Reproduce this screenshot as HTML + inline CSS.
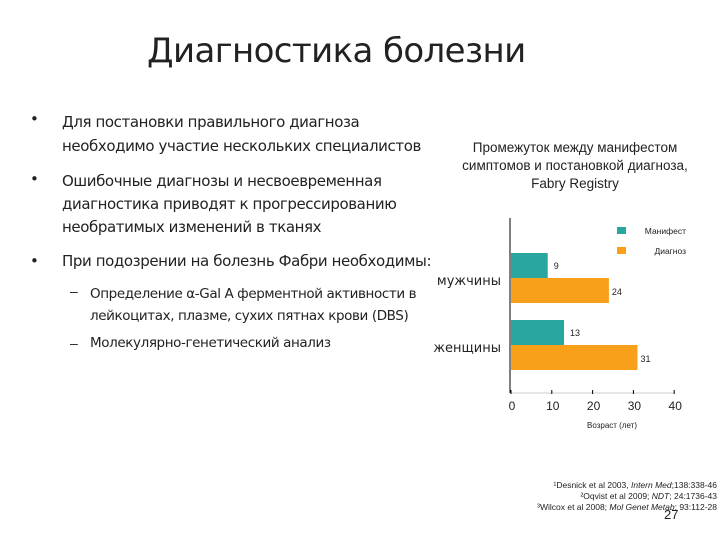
<!DOCTYPE html>
<html><head><meta charset="utf-8"><style>
body{margin:0;width:720px;height:540px;background:#fff;overflow:hidden;position:relative;font-family:"Liberation Sans","DejaVu Sans",sans-serif;}
.t{position:absolute;white-space:nowrap;color:#222;}
.b{font-size:15px;font-family:"DejaVu Sans","Liberation Sans",sans-serif;color:#222;letter-spacing:-0.4px}
</style></head><body>
<div class="t" style="left:147px;top:31px;font-size:34px;font-family:'DejaVu Sans',sans-serif;letter-spacing:-0.6px">Диагностика болезни</div>
<div class="t" style="left:30px;top:110px"><span class="b">•</span></div>
<div class="t b" style="left:62px;top:110px;line-height:24px">Для постановки правильного диагноза<br>необходимо участие нескольких специалистов</div>
<div class="t" style="left:30px;top:170px"><span class="b">•</span></div>
<div class="t b" style="left:62px;top:170px;line-height:23px">Ошибочные диагнозы и несвоевременная<br>диагностика приводят к прогрессированию<br>необратимых изменений в тканях</div>
<div class="t" style="left:30px;top:252px"><span class="b">•</span></div>
<div class="t b" style="left:62px;top:252px">При подозрении на болезнь Фабри необходимы:</div>
<div class="t" style="left:70px;top:283px;font-size:14px">–</div>
<div class="t" style="left:90px;top:283px;font-size:13.5px;font-family:'DejaVu Sans',sans-serif;line-height:22px;letter-spacing:-0.4px">Определение α-Gal A ферментной активности в<br>лейкоцитах, плазме, сухих пятнах крови (DBS)</div>
<div class="t" style="left:70px;top:335px;font-size:14px">–</div>
<div class="t" style="left:90px;top:335px;font-size:13.5px;font-family:'DejaVu Sans',sans-serif;letter-spacing:-0.4px">Молекулярно-генетический анализ</div>
<div class="t" style="left:455px;top:139px;width:240px;text-align:center;font-size:13.5px;line-height:18px;color:#222">Промежуток между манифестом<br>симптомов и постановкой диагноза,<br>Fabry Registry</div>
<svg id="chart" width="720" height="540" style="position:absolute;left:0;top:0"></svg>
<div class="t" style="right:3px;top:480px;text-align:right;font-size:8.5px;line-height:11px;color:#222">¹Desnick et al 2003, <i>Intern Med</i>;138:338-46<br>²Oqvist et al 2009; <i>NDT</i>; 24:1736-43<br>³Wilcox et al 2008; <i>Mol Genet Metab</i>; 93:112-28</div>
<div class="t" style="left:664px;top:507px;font-size:13px">27</div>
<script>
const categories=["мужчины","женщины"];
const manifest=[9,13];
const diagnosis=[24,31];
const ticks=[0,10,20,30,40];
const svg=document.getElementById('chart');
const NS='http://www.w3.org/2000/svg';
const x=v=>511+v*4.08;
const catY=[253,320];
function el(t,a){const e=document.createElementNS(NS,t);for(const k in a)e.setAttribute(k,a[k]);svg.appendChild(e);return e;}
const ax=el('line',{x1:510,y1:218,x2:510,y2:393,stroke:'#000','stroke-width':1});


const xl=el('line',{x1:510,y1:393,x2:x(40),y2:393,stroke:'#ccc','stroke-width':1});


ticks.forEach(v=>{
 const tk=el('line',{x1:x(v),y1:390,x2:x(v),y2:394,stroke:'#000'});
 
 
 const tl=el('text',{x:x(v)+1,y:410,'font-size':12,'text-anchor':'middle','font-family':'Liberation Sans, sans-serif',fill:'#222'});
 tl.textContent=v;
 
 
});
categories.forEach((c,i)=>{
 const y0=catY[i];
 const m=el('rect',{x:511,y:y0,width:x(manifest[i])-511,height:25,fill:'#2aa6a0'});
 
 
 const d=el('rect',{x:511,y:y0+25,width:x(diagnosis[i])-511,height:25,fill:'#f8a01a'});
 
 
 const ml=el('text',{x:x(manifest[i])+6,y:y0+16,'font-size':9,fill:'#222'});
 ml.textContent=manifest[i];
 
 
 const dl=el('text',{x:x(diagnosis[i])+3,y:y0+42,'font-size':9,fill:'#222'});
 dl.textContent=diagnosis[i];
 
 
 const cl=el('text',{x:501,y:y0+32,'font-size':13,'text-anchor':'end',fill:'#222','font-family':'DejaVu Sans, sans-serif'});
 cl.textContent=c;
 
 
});
const at=el('text',{x:612,y:428,'font-size':8,'text-anchor':'middle',fill:'#222'});
at.textContent='Возраст (лет)';


[['Манифест','#2aa6a0',227],['Диагноз','#f8a01a',247]].forEach(([n,c,y])=>{
 const r=el('rect',{x:617,y:y,width:9,height:7,fill:c});
 
 
 const t=el('text',{x:686,y:y+7,'font-size':8.5,'text-anchor':'end',fill:'#222'});
 t.textContent=n;
 
 
});
</script>
</body></html>
